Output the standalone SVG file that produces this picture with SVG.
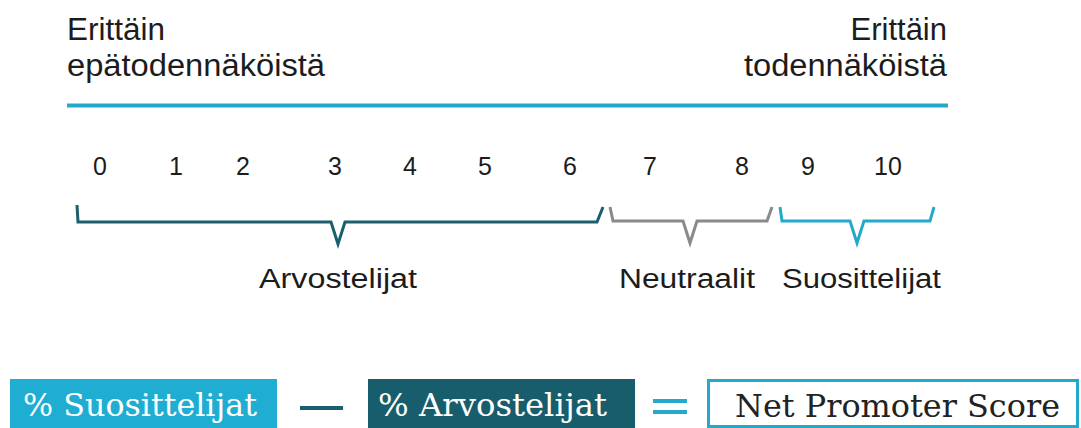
<svg xmlns="http://www.w3.org/2000/svg" width="1081" height="428" viewBox="0 0 1081 428">
<style>
.sans{font-family:"Liberation Sans",Arial,sans-serif;fill:#1c1c1c}
.top{font-size:31px}
.num{font-size:25px;text-anchor:middle}
.lbl{font-size:27px}
.serif{font-family:"DejaVu Serif","Liberation Serif",serif;font-size:32px}
.br{fill:none;stroke-width:3;stroke-linejoin:miter}
</style>
<rect width="1081" height="428" fill="#ffffff"/>
<g id="scale-left">
<text class="sans top" x="67" y="40" textLength="98" lengthAdjust="spacingAndGlyphs">Erittäin</text>
<text class="sans top" x="67" y="76" textLength="258" lengthAdjust="spacingAndGlyphs">epätodennäköistä</text>
</g>
<g id="scale-right">
<text class="sans top" x="947" y="40" text-anchor="end">Erittäin</text>
<text class="sans top" x="947" y="76" text-anchor="end" textLength="203" lengthAdjust="spacingAndGlyphs">todennäköistä</text>
</g>
<g id="scale-line">
<line x1="67" y1="105.5" x2="948" y2="105.5" stroke="#25a9cb" stroke-width="4"/>
</g>
<g id="numbers" class="sans num">
<text x="100" y="175">0</text>
<text x="176" y="175">1</text>
<text x="243" y="175">2</text>
<text x="335" y="175">3</text>
<text x="410" y="175">4</text>
<text x="485" y="175">5</text>
<text x="570" y="175">6</text>
<text x="650" y="175">7</text>
<text x="742" y="175">8</text>
<text x="808" y="175">9</text>
<text x="888" y="175">10</text>
</g>
<g id="connectors">
<path class="br" stroke="#1a5f6d" d="M77,205 L78,222 L331,222 L338,244 L345,222 L597,222 L603,207"/>
<path class="br" stroke="#8a8a8a" d="M610,207 L613,221 L683,221 L690,243 L697,221 L767,221 L772,207"/>
<path class="br" stroke="#25a9cb" d="M780,207 L782,221 L850,221 L857,243 L864,221 L930,221 L934,207"/>
</g>
<g id="group-arvostelijat">
<text class="sans lbl" x="338" y="288" text-anchor="middle" textLength="158" lengthAdjust="spacingAndGlyphs">Arvostelijat</text>
</g>
<g id="group-neutraalit">
<text class="sans lbl" x="619" y="288" textLength="136" lengthAdjust="spacingAndGlyphs">Neutraalit</text>
</g>
<g id="group-suosittelijat">
<text class="sans lbl" x="782" y="288" textLength="159" lengthAdjust="spacingAndGlyphs">Suosittelijat</text>
</g>
<g id="formula-promoters">
<rect x="10" y="379" width="267" height="52" fill="#1fadd2"/>
<text class="serif" x="23" y="416" fill="#ffffff" textLength="234" lengthAdjust="spacingAndGlyphs">% Suosittelijat</text>
</g>
<g id="formula-minus">
<rect x="300" y="406" width="43" height="4" fill="#1a5f6d"/>
</g>
<g id="formula-detractors">
<rect x="368" y="379" width="267" height="52" fill="#175d6b"/>
<text class="serif" x="378" y="416" fill="#ffffff" textLength="229" lengthAdjust="spacingAndGlyphs">% Arvostelijat</text>
</g>
<g id="formula-equals">
<rect x="653" y="399" width="34" height="4" fill="#25a9cb"/>
<rect x="653" y="410" width="34" height="4" fill="#25a9cb"/>
</g>
<g id="formula-nps">
<rect x="708.5" y="380.5" width="369" height="46" fill="#ffffff" stroke="#25a9cb" stroke-width="3"/>
<text class="serif" x="735" y="417" fill="#222222" textLength="325" lengthAdjust="spacingAndGlyphs">Net Promoter Score</text>
</g>
</svg>
